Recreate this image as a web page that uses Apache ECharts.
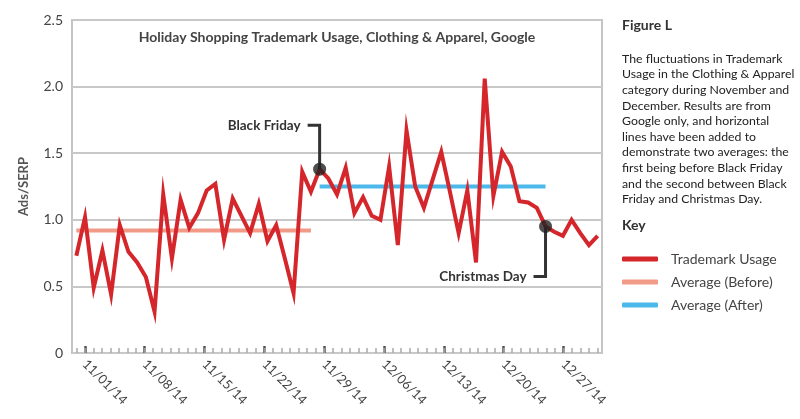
<!DOCTYPE html>
<html><head><meta charset="utf-8">
<script src="https://cdn.jsdelivr.net/npm/echarts@6/dist/echarts.min.js"></script>
<style>html,body{margin:0;padding:0;background:#fff}#c{width:800px;height:419px}</style>
</head><body><div id="c"></div>
<script>
const axisDates = ["10/31/14",
 "11/01/14","11/02/14","11/03/14","11/04/14","11/05/14","11/06/14","11/07/14","11/08/14","11/09/14","11/10/14",
 "11/11/14","11/12/14","11/13/14","11/14/14","11/15/14","11/16/14","11/17/14","11/18/14","11/19/14","11/20/14",
 "11/21/14","11/22/14","11/23/14","11/24/14","11/25/14","11/26/14","11/27/14","11/28/14","11/29/14","11/30/14",
 "12/01/14","12/02/14","12/03/14","12/04/14","12/05/14","12/06/14","12/07/14","12/08/14","12/09/14","12/10/14",
 "12/11/14","12/12/14","12/13/14","12/14/14","12/15/14","12/16/14","12/17/14","12/18/14","12/19/14","12/20/14",
 "12/21/14","12/22/14","12/23/14","12/24/14","12/25/14","12/26/14","12/27/14","12/28/14","12/29/14","12/30/14","12/31/14"];
const dataDates = axisDates.slice(1);
const usage = [0.73,1.02,0.49,0.77,0.44,0.96,0.76,0.68,0.57,0.31,
 1.19,0.71,1.15,0.94,1.05,1.22,1.27,0.85,1.16,1.03,
 0.90,1.12,0.84,0.96,0.71,0.45,1.36,1.21,1.38,1.31,
 1.19,1.39,1.05,1.17,1.03,1.00,1.40,0.81,1.67,1.25,
 1.09,1.30,1.51,1.21,0.90,1.22,0.68,2.06,1.18,1.51,
 1.40,1.14,1.13,1.09,0.95,0.91,0.88,1.00,0.90,0.81,0.88];
const avgBefore = 0.92, avgAfter = 1.25;
const beforeRange = [0, 27], afterRange = [28, 54];
const eventNames = ["Black Friday", "Christmas Day"];
const eventIdx = [28, 54];
const seriesNames = ["Trademark Usage", "Average (Before)", "Average (After)"];
const chartTitle = "Holiday Shopping Trademark Usage, Clothing & Apparel, Google";
const figTitle = "Figure L";
const figText = ["The fluctuations in Trademark","Usage in the Clothing & Apparel","category during November and","December. Results are from","Google only, and horizontal","lines have been added to","demonstrate two averages: the","first being before Black Friday","and the second between Black","Friday and Christmas Day."];
const keyTitle = "Key";

const FONT = 'Lato, "Noto Sans", sans-serif';
const colors = ['#d4262b', '#f29a88', '#4db8ea'];
const chart = echarts.init(document.getElementById('c'), null, {renderer: 'canvas'});
const isMajor = (i) => i % 7 === 1;
const everyDay = () => true;

chart.setOption({
  backgroundColor: '#fff',
  animation: false,
  textStyle: {fontFamily: FONT},
  grid: {left: 72, right: 198, top: 20, bottom: 66, show: true, borderColor: '#c4c4c4', borderWidth: 2},
  title: [
    {text: chartTitle, left: 337, top: 30, padding: 0, textAlign: 'center', textStyle: {fontFamily: FONT, fontSize: 14, fontWeight: 'bold', color: '#444'}},
    {text: figTitle, left: 622, top: 18, padding: 0, textStyle: {fontFamily: FONT, fontSize: 14, fontWeight: 'bold', color: '#333'}},
    {text: figText.join('\n'), left: 622, top: 51, padding: 0, textStyle: {fontFamily: FONT, fontSize: 12.3, fontWeight: 'normal', color: '#222', lineHeight: 15.6}},
    {text: keyTitle, left: 622, top: 218, padding: 0, textStyle: {fontFamily: FONT, fontSize: 14, fontWeight: 'bold', color: '#333'}}
  ],
  legend: {
    data: seriesNames, orient: 'vertical', left: 622, top: 251, padding: 0, icon: 'roundRect',
    itemWidth: 36, itemHeight: 5, itemGap: 7,
    textStyle: {fontFamily: FONT, fontSize: 14, color: '#444', lineHeight: 16, padding: [0, 0, 0, 8]}
  },
  xAxis: [
    {type: 'category', data: dataDates, boundaryGap: true, show: false, position: 'bottom'},
    {type: 'category', data: axisDates, boundaryGap: true, position: 'bottom', offset: 0,
     axisLine: {show: false}, splitLine: {show: false},
     axisTick: {show: true, alignWithLabel: true, interval: isMajor, inside: true, length: 7, lineStyle: {color: '#555', width: 2.5}},
     axisLabel: {show: true, interval: isMajor, rotate: -45, margin: 9, fontFamily: FONT, fontSize: 13, color: '#444'}},
    {type: 'category', data: axisDates, boundaryGap: true, position: 'bottom', offset: 0,
     axisLine: {show: false}, splitLine: {show: false},
     axisLabel: {show: true, interval: everyDay, formatter: () => ''},
     axisTick: {show: true, alignWithLabel: true, interval: everyDay, inside: true, length: 5, lineStyle: {color: '#aaaaaa', width: 1.5}}}
  ],
  yAxis: {
    type: 'value', min: 0, max: 2.5, interval: 0.5,
    name: 'Ads/SERP', nameLocation: 'middle', nameGap: 42,
    nameTextStyle: {fontFamily: FONT, fontSize: 13, fontWeight: 'bold', color: '#555'},
    axisLine: {show: false}, axisTick: {show: false},
    axisLabel: {fontFamily: FONT, fontSize: 14, color: '#444', margin: 9, formatter: v => v === 0 ? '0' : v.toFixed(1)},
    splitLine: {lineStyle: {color: '#c8c8c8', width: 2}}
  },
  series: [
    {name: seriesNames[0], type: 'line', xAxisIndex: 0, data: usage, symbol: 'none', z: 4,
     lineStyle: {color: colors[0], width: 4, join: 'miter'}, itemStyle: {color: colors[0]}},
    {name: seriesNames[1], type: 'line', xAxisIndex: 0, z: 3, symbol: 'none',
     data: dataDates.map((d, i) => (i >= beforeRange[0] && i <= beforeRange[1]) ? avgBefore : null),
     lineStyle: {color: colors[1], width: 4}, itemStyle: {color: colors[1]}},
    {name: seriesNames[2], type: 'line', xAxisIndex: 0, z: 3, symbol: 'none',
     data: dataDates.map((d, i) => (i >= afterRange[0] && i <= afterRange[1]) ? avgAfter : null),
     lineStyle: {color: colors[2], width: 4}, itemStyle: {color: colors[2]}},
    {name: 'events', type: 'scatter', xAxisIndex: 0, z: 6, symbol: 'circle', symbolSize: 13,
     data: eventIdx.map(i => [i, usage[i]]), itemStyle: {color: '#222'}}
  ]
});

const p0 = chart.convertToPixel({xAxisIndex: 0, yAxisIndex: 0}, [eventIdx[0], usage[eventIdx[0]]]);
const p1 = chart.convertToPixel({xAxisIndex: 0, yAxisIndex: 0}, [eventIdx[1], usage[eventIdx[1]]]);
const lineStyle = {stroke: '#333', lineWidth: 3, fill: null, lineJoin: 'miter'};
const labelStyle = {fontFamily: FONT, fontSize: 13.5, fontWeight: 'bold', fill: '#333', align: 'right', verticalAlign: 'middle'};
chart.setOption({
  graphic: [
    {type: 'polyline', z: 5, shape: {points: [[p0[0], p0[1]], [p0[0], p0[1] - 44], [p0[0] - 12, p0[1] - 44]]}, style: lineStyle},
    {type: 'text', z: 5, x: p0[0] - 19, y: p0[1] - 44, style: Object.assign({text: eventNames[0]}, labelStyle)},
    {type: 'polyline', z: 5, shape: {points: [[p1[0], p1[1]], [p1[0], p1[1] + 50], [p1[0] - 12, p1[1] + 50]]}, style: lineStyle},
    {type: 'text', z: 5, x: p1[0] - 19, y: p1[1] + 50, style: Object.assign({text: eventNames[1]}, labelStyle)}
  ]
});
</script>
</body></html>
